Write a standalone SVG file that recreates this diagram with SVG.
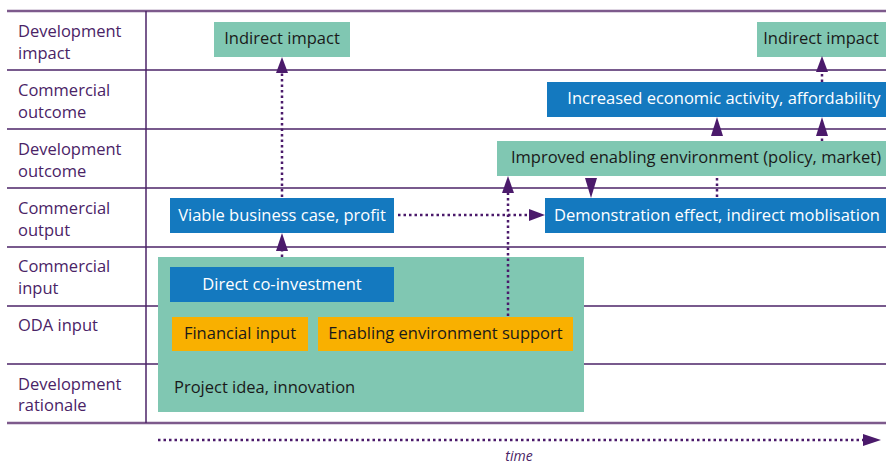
<svg xmlns="http://www.w3.org/2000/svg" width="886" height="467" viewBox="0 0 886 467">
<style>
.lab{font-family:"Open Sans","Noto Sans",sans-serif;font-size:16.5px;fill:#4a2366}
.t{font-family:"Open Sans","Noto Sans",sans-serif;font-size:16.5px;text-anchor:middle}
.dk{fill:#1a1a1a}
.wt{fill:#ffffff}
.teal{fill:#80c7b2}
.blue{fill:#1479bf}
.orange{fill:#f9b000}
.grid{stroke:#4b2367;stroke-width:1.5}
.edge{stroke:#7d5a8c;stroke-width:2.5}
.dot{stroke:#4b1a6b;stroke-width:2.5;stroke-dasharray:2.5 3;fill:none}
.ah{fill:#4b1a6b}
</style>
<g id="grid">
<line class="edge" x1="7" y1="11" x2="886" y2="11"/>
<line class="grid" x1="7" y1="70" x2="886" y2="70"/>
<line class="grid" x1="7" y1="129" x2="886" y2="129"/>
<line class="grid" x1="7" y1="188" x2="886" y2="188"/>
<line class="grid" x1="7" y1="247" x2="886" y2="247"/>
<line class="grid" x1="7" y1="306" x2="886" y2="306"/>
<line class="grid" x1="7" y1="364" x2="886" y2="364"/>
<line class="edge" x1="7" y1="423" x2="886" y2="423"/>
<line class="grid" x1="146" y1="11" x2="146" y2="423"/>
</g>
<g id="row-labels">
<text class="lab" x="18" y="37">Development</text>
<text class="lab" x="18" y="59">impact</text>
<text class="lab" x="18" y="96">Commercial</text>
<text class="lab" x="18" y="118">outcome</text>
<text class="lab" x="18" y="155">Development</text>
<text class="lab" x="18" y="177">outcome</text>
<text class="lab" x="18" y="214">Commercial</text>
<text class="lab" x="18" y="236">output</text>
<text class="lab" x="18" y="272">Commercial</text>
<text class="lab" x="18" y="294">input</text>
<text class="lab" x="18" y="331">ODA input</text>
<text class="lab" x="18" y="390">Development</text>
<text class="lab" x="18" y="411">rationale</text>
</g>
<g id="project">
<rect class="teal" x="158" y="257" width="426" height="155"/>
<text class="lab" style="fill:#1a1a1a" x="174" y="393">Project idea, innovation</text>
</g>
<g id="direct-co-investment">
<rect class="blue" x="170" y="267" width="224" height="35"/>
<text class="t wt" x="282" y="290">Direct co-investment</text>
</g>
<g id="financial-input">
<rect class="orange" x="172" y="317" width="136" height="34"/>
<text class="t dk" x="240" y="339">Financial input</text>
</g>
<g id="enabling-support">
<rect class="orange" x="318" y="317" width="255" height="34"/>
<text class="t dk" x="445.5" y="339">Enabling environment support</text>
</g>
<g id="viable-business">
<rect class="blue" x="170" y="198" width="224" height="35"/>
<text class="t wt" x="282" y="221">Viable business case, profit</text>
</g>
<g id="demonstration">
<rect class="blue" x="545" y="198" width="341" height="35"/>
<text class="t wt" x="717" y="221">Demonstration effect, indirect moblisation</text>
</g>
<g id="improved-enabling">
<rect class="teal" x="497" y="141" width="389" height="35"/>
<text class="t dk" x="696" y="163">Improved enabling environment (policy, market)</text>
</g>
<g id="increased-activity">
<rect class="blue" x="547" y="82" width="339" height="35"/>
<text class="t wt" x="724" y="104">Increased economic activity, affordability</text>
</g>
<g id="indirect-impact-1">
<rect class="teal" x="214" y="22" width="136" height="35"/>
<text class="t dk" x="282" y="44">Indirect impact</text>
</g>
<g id="indirect-impact-2">
<rect class="teal" x="757" y="22" width="129" height="35"/>
<text class="t dk" x="821" y="44">Indirect impact</text>
</g>
<g id="connectors">
<line class="dot" x1="282" y1="197" x2="282" y2="73"/>
<polygon class="ah" points="282,57 276,73 288,73"/>
<line class="dot" x1="282" y1="257" x2="282" y2="250"/>
<polygon class="ah" points="282,233 276,251 288,251"/>
<line class="dot" x1="398" y1="215" x2="530" y2="215"/>
<polygon class="ah" points="545,215 529,209 529,221"/>
<line class="dot" x1="508" y1="316" x2="508" y2="193"/>
<polygon class="ah" points="508,176 502,193 514,193"/>
<polygon class="ah" points="591,198 585,178 597,178"/>
<line class="dot" x1="717" y1="178" x2="717" y2="197"/>
<polygon class="ah" points="717,117 711,136 723,136"/>
<line class="dot" x1="822" y1="141" x2="822" y2="136"/>
<polygon class="ah" points="822,117 816,136 828,136"/>
<line class="dot" x1="822" y1="82" x2="822" y2="72"/>
<polygon class="ah" points="822,56 816,72 828,72"/>
<line class="dot" x1="158" y1="440" x2="864" y2="440"/>
<polygon class="ah" points="881,440 863,434 863,446"/>
</g>
<text x="519" y="461" style="font-family:'Open Sans','Noto Sans',sans-serif;font-size:14px;font-style:italic;fill:#4a2366;text-anchor:middle">time</text>
</svg>
